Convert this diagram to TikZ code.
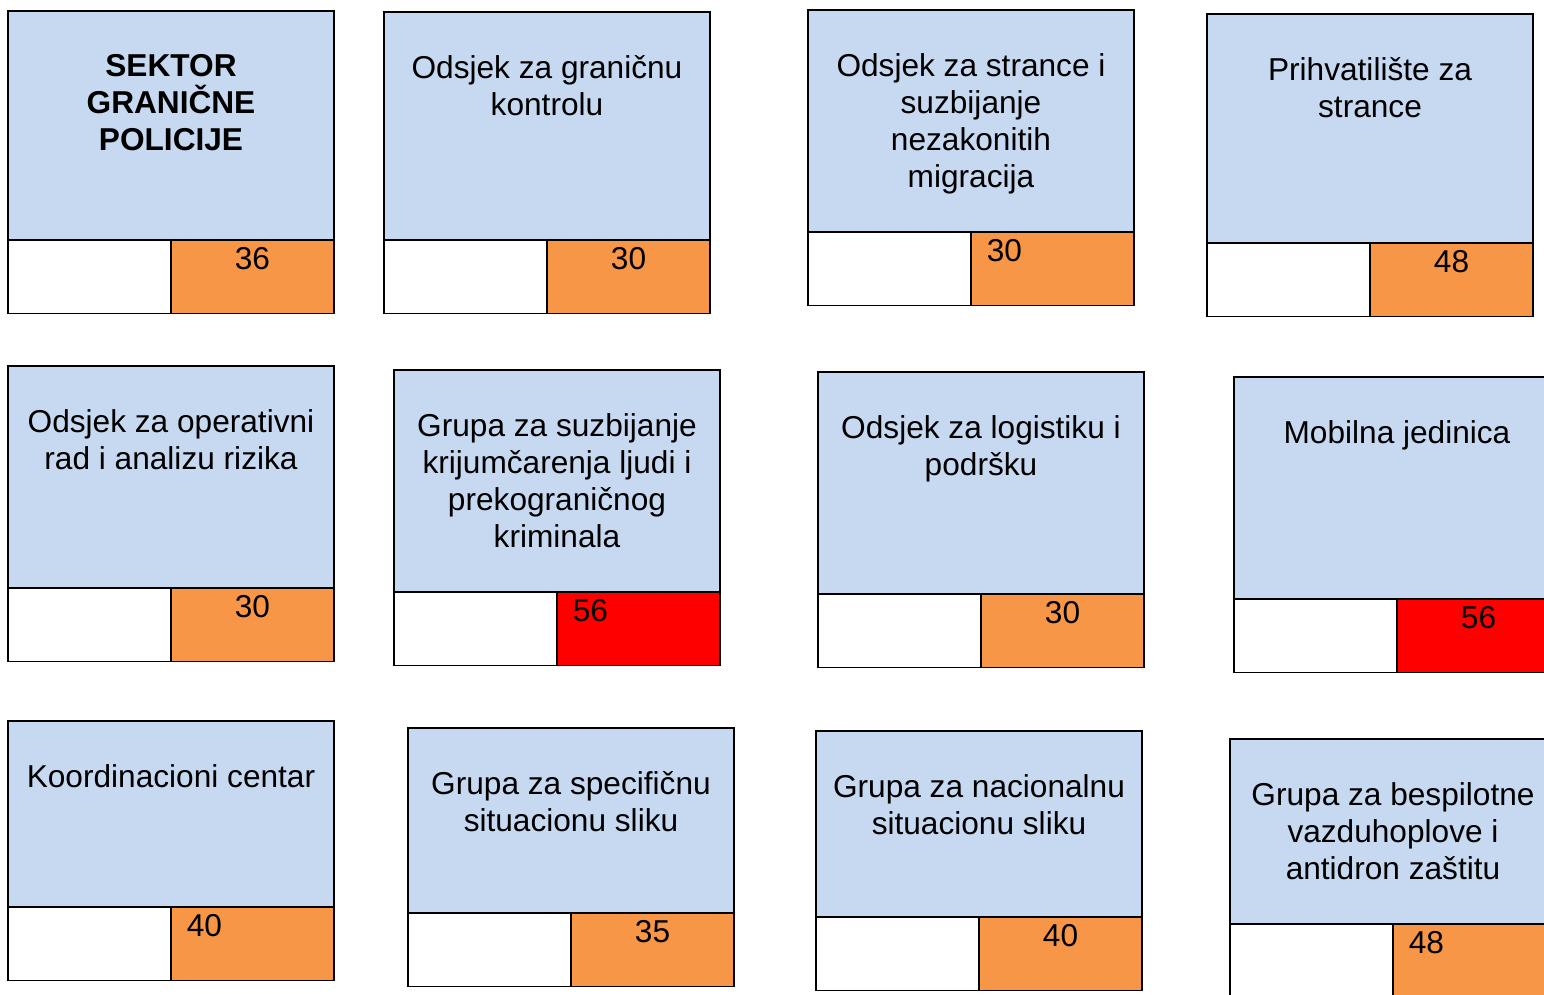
\documentclass[tikz,border=0pt]{standalone}
\usepackage{fontspec}
\setmainfont{Liberation Sans}
\usetikzlibrary{positioning}
\definecolor{unitblue}{RGB}{198,217,241}
\definecolor{unitorange}{RGB}{247,150,70}
\definecolor{unitred}{RGB}{255,0,0}
\begin{document}
\begin{tikzpicture}[
  frame/.style={draw=black, line width=1.1pt, outer sep=0pt, inner sep=0pt},
  head/.style={frame, fill=unitblue, anchor=north west, minimum width=6.52cm},
  cell/.style={frame, fill=white, anchor=north west, minimum width=3.26cm, minimum height=1.47cm},
  title/.style={anchor=north, align=center, inner sep=0pt, font=\fontsize{18}{21}\selectfont},
  numtxt/.style={inner sep=0pt, font=\fontsize{18}{21}\selectfont},
  numc/.style={numtxt, anchor=north, xshift=1.63cm, yshift=-0.15cm},
  numl/.style={numtxt, anchor=north west, xshift=0.31cm, yshift=-0.15cm}]
  \path[use as bounding box, clip] (0,0) rectangle (30.88,-19.9);
  \foreach \name/\x/\y/\h/\ttl/\num/\col/\pos in {
    b1/0.16/-0.22/4.58/{\textbf{SEKTOR}\\\textbf{GRANIČNE}\\\textbf{POLICIJE}}/36/unitorange/numc,
    b2/7.68/-0.24/4.56/{Odsjek za graničnu\\kontrolu}/30/unitorange/numc,
    b3/16.16/-0.20/4.44/{Odsjek za strance i\\suzbijanje\\nezakonitih\\migracija}/30/unitorange/numl,
    b4/24.14/-0.28/4.58/{Prihvatilište za\\strance}/48/unitorange/numc,
    b5/0.16/-7.32/4.44/{Odsjek za operativni\\rad i analizu rizika}/30/unitorange/numc,
    b6/7.88/-7.40/4.44/{Grupa za suzbijanje\\krijumčarenja ljudi i\\prekograničnog\\kriminala}/56/unitred/numl,
    b7/16.36/-7.44/4.44/{Odsjek za logistiku i\\podršku}/30/unitorange/numc,
    b8/24.68/-7.54/4.44/{Mobilna jedinica}/56/unitred/numc,
    b9/0.16/-14.42/3.72/{Koordinacioni centar}/40/unitorange/numl,
    b10/8.16/-14.56/3.70/{Grupa za specifičnu\\situacionu sliku}/35/unitorange/numc,
    b11/16.32/-14.62/3.72/{Grupa za nacionalnu\\situacionu sliku}/40/unitorange/numc,
    b12/24.60/-14.78/3.70/{Grupa za bespilotne\\vazduhoplove i\\antidron zaštitu}/48/unitorange/numl} {
    \node[head, minimum height=\h cm] (\name) at (\x,\y) {};
    \node[title] (\name-t) at ([yshift=-0.87cm]\name.north) {\ttl};
    \node[cell] (\name-c) at (\name.south west) {};
    \node[cell, fill=\col] (\name-n) at (\name-c.north east) {};
    \node[\pos] (\name-v) at (\name-n.north west) {\num};
  }
\end{tikzpicture}
\end{document}
